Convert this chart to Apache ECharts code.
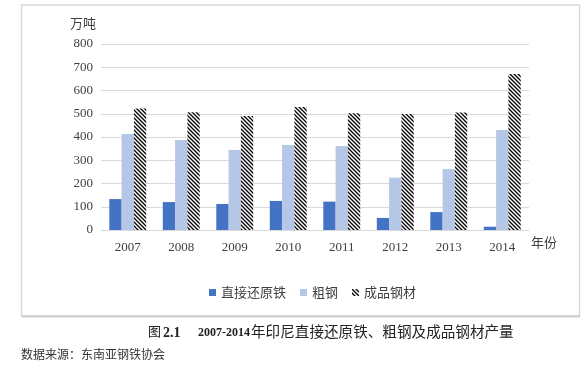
<!DOCTYPE html>
<html>
<head>
<meta charset="utf-8">
<script src="https://cdn.jsdelivr.net/npm/echarts@6/dist/echarts.min.js"></script>
<style>
html,body{margin:0;padding:0;background:#fff;}
#c{width:587px;height:369px;}
</style>
</head>
<body>
<div id="c"></div>
<script>
const categories = ['2007','2008','2009','2010','2011','2012','2013','2014'];
const seriesNames = ['直接还原铁','粗钢','成品钢材'];
const driValues = [133, 120, 112, 125, 122, 52, 77, 14];
const crudeSteelValues = [413, 387, 344, 366, 361, 225, 262, 430];
const finishedSteelValues = [523, 506, 490, 529, 502, 499, 505, 671];
const yTicks = [0, 100, 200, 300, 400, 500, 600, 700, 800];

function makeHatch() {
  const s = 4;
  const cv = document.createElement('canvas');
  cv.width = s; cv.height = s;
  const ctx = cv.getContext('2d');
  ctx.fillStyle = '#ffffff';
  ctx.fillRect(0, 0, s, s);
  ctx.strokeStyle = '#000000';
  ctx.lineWidth = 1.3;
  ctx.beginPath();
  ctx.moveTo(-1, -1); ctx.lineTo(s + 1, s + 1);
  ctx.moveTo(-1, s - 1); ctx.lineTo(1, s + 1);
  ctx.moveTo(s - 1, -1); ctx.lineTo(s + 1, 1);
  ctx.stroke();
  return cv;
}
const hatch = { image: makeHatch(), repeat: 'repeat' };

const chart = echarts.init(document.getElementById('c'), null, { renderer: 'canvas' });
const labelFont = 'Liberation Serif';
const cjk = '"Noto Sans CJK SC"';

chart.setOption({
  animation: false,
  backgroundColor: '#ffffff',
  grid: { left: 101, right: 58, top: 44, bottom: 139, containLabel: false },
  legend: {
    left: 204, top: 281,
    itemWidth: 7, itemHeight: 7, itemGap: 14,
    textStyle: { fontFamily: cjk, fontSize: 13, color: '#404040' },
    data: seriesNames.map(n => ({ name: n, icon: 'rect' }))
  },
  xAxis: {
    type: 'category',
    data: categories,
    axisLine: { show: false },
    axisTick: { show: false },
    axisLabel: { fontFamily: labelFont, fontSize: 13, color: '#404040', margin: 11 }
  },
  yAxis: {
    type: 'value',
    min: 0, max: 800, interval: 100,
    axisLine: { show: false },
    axisTick: { show: false },
    splitLine: { lineStyle: { color: '#d9d9d9', width: 1 } },
    axisLabel: { fontFamily: labelFont, fontSize: 13, color: '#404040', margin: 8,
      formatter: v => yTicks.indexOf(v) >= 0 ? String(v) : '' }
  },
  series: [
    { name: seriesNames[0], type: 'bar', data: driValues, barGap: '0%', barCategoryGap: '31%',
      itemStyle: { color: '#4472C4' } },
    { name: seriesNames[1], type: 'bar', data: crudeSteelValues, barGap: '0%', barCategoryGap: '31%',
      itemStyle: { color: '#B4C7E7' } },
    { name: seriesNames[2], type: 'bar', data: finishedSteelValues, barGap: '0%', barCategoryGap: '31%',
      itemStyle: { color: hatch } }
  ],
  graphic: [
    { type: 'rect', z: -1, shape: { x: 21.5, y: 5, width: 558, height: 311 },
      style: { fill: 'rgba(0,0,0,0)', stroke: '#d9d9d9', lineWidth: 1.5 } },
    { type: 'line', z: -1, shape: { x1: 22, y1: 316.5, x2: 580, y2: 316.5 },
      style: { stroke: '#cfcfcf', lineWidth: 2 } },
    { type: 'text', left: 70, top: 17,
      style: { text: '万吨', fontFamily: cjk, fontSize: 13, fill: '#404040' } },
    { type: 'text', left: 531, top: 236,
      style: { text: '年份', fontFamily: cjk, fontSize: 13, fill: '#404040' } },
    { type: 'text', left: 148, top: 325,
      style: { text: '图', fontFamily: cjk, fontSize: 13, fill: '#222' } },
    { type: 'text', left: 163, top: 326,
      style: { text: '2.1', fontFamily: 'Liberation Serif', fontWeight: 'bold', fontSize: 14, fill: '#222' } },
    { type: 'text', left: 198, top: 327,
      style: { text: '2007-2014', fontFamily: 'Liberation Serif', fontWeight: 'bold', fontSize: 12, fill: '#222' } },
    { type: 'text', left: 251, top: 324,
      style: { text: '年印尼直接还原铁、粗钢及成品钢材产量', fontFamily: cjk, fontSize: 14.6, fill: '#222' } },
    { type: 'text', left: 21, top: 348,
      style: { text: '数据来源：东南亚钢铁协会', fontFamily: cjk, fontSize: 12, fill: '#333' } }
  ]
});
</script>
</body>
</html>
